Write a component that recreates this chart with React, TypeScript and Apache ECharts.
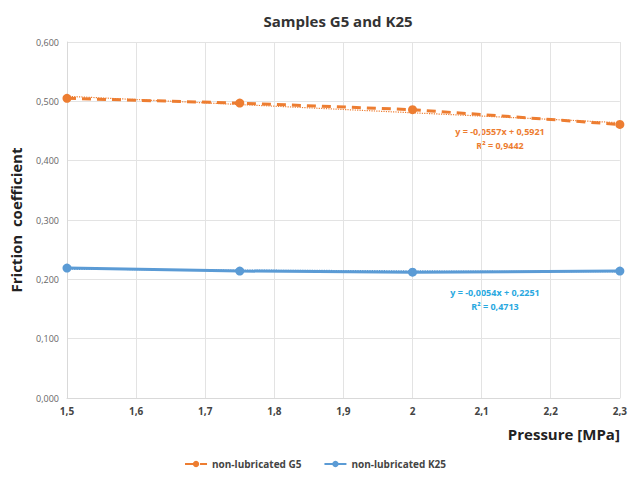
import React, { useEffect, useRef } from "react";
import * as echarts from "echarts";

const pressure = [1.5, 1.75, 2, 2.3];
const g5Values = [0.505, 0.497, 0.486, 0.461];
const k25Values = [0.219, 0.214, 0.212, 0.214];
const g5Trend = { slope: -0.0557, intercept: 0.5921 };
const k25Trend = { slope: -0.0054, intercept: 0.2251 };
const g5Label = ["y = -0,0557x + 0,5921", "R² = 0,9442"];
const k25Label = ["y = -0,0054x + 0,2251", "R² = 0,4713"];

const ORANGE = "#ED7D31";
const BLUE = "#5B9BD5";
const FONT = "'Open Sans', 'Liberation Sans', sans-serif";

function trend(t: { slope: number; intercept: number }) {
  const xs = [pressure[0], pressure[pressure.length - 1]];
  return xs.map((x) => [x, t.slope * x + t.intercept]);
}

export default function App() {
  const ref = useRef<HTMLDivElement>(null);
  useEffect(() => {
    if (!ref.current) return;
    document.body.style.margin = "0";
    const chart = echarts.init(ref.current, undefined, { renderer: "svg" });
    chart.setOption({
      animation: false,
      backgroundColor: "#fff",
      title: {
        text: "Samples G5 and K25",
        left: 333,
        textAlign: "center",
        top: 8,
        textStyle: { fontFamily: FONT, fontSize: 15, fontWeight: "bold", color: "#333" },
      },
      grid: { left: 63, right: 8, top: 42, bottom: 86, containLabel: false },
      xAxis: {
        type: "value",
        min: 1.5,
        max: 2.3,
        interval: 0.1,
        name: "Pressure [MPa]",
        nameLocation: "end",
        nameGap: 0,
        nameTextStyle: {
          fontFamily: FONT,
          fontSize: 15,
          fontWeight: "bold",
          color: "#222",
          align: "right",
          verticalAlign: "top",
          padding: [28, 0, 0, 0],
        },
        axisLine: { show: true, lineStyle: { color: "#d9d9d9" } },
        axisTick: { show: false },
        splitLine: { show: true, lineStyle: { color: "#e3e3e3" } },
        axisLabel: {
          fontFamily: FONT,
          fontSize: 10,
          fontWeight: "bold",
          color: "#444",
          margin: 8,
          formatter: (v: number) => String(Math.round(v * 10) / 10).replace(".", ","),
        },
      },
      yAxis: {
        type: "value",
        min: 0,
        max: 0.6,
        interval: 0.1,
        name: "Friction  coefficient",
        nameLocation: "middle",
        nameGap: 44,
        nameRotate: 90,
        nameTextStyle: { fontFamily: FONT, fontSize: 15, fontWeight: "bold", color: "#222" },
        axisLine: { show: true, lineStyle: { color: "#d9d9d9" } },
        axisTick: { show: false },
        splitLine: { show: true, lineStyle: { color: "#e3e3e3" } },
        axisLabel: {
          fontFamily: FONT,
          fontSize: 9,
          color: "#666",
          margin: 8,
          formatter: (v: number) => v.toFixed(3).replace(".", ","),
        },
      },
      legend: {
        data: ["non-lubricated G5", "non-lubricated K25"],
        bottom: 10,
        left: "center",
        itemWidth: 22,
        itemHeight: 8,
        itemGap: 22,
        textStyle: { fontFamily: FONT, fontSize: 10, fontWeight: "bold", color: "#444" },
      },
      series: [
        {
          name: "G5 trend",
          type: "line",
          data: trend(g5Trend),
          symbol: "none",
          lineStyle: { color: ORANGE, width: 1.2, type: "dotted" },
          z: 1,
        },
        {
          name: "K25 trend",
          type: "line",
          data: trend(k25Trend),
          symbol: "none",
          lineStyle: { color: BLUE, width: 1.2, type: "dotted" },
          z: 1,
        },
        {
          name: "non-lubricated G5",
          type: "line",
          data: pressure.map((p, i) => [p, g5Values[i]]),
          symbol: "circle",
          symbolSize: 9,
          itemStyle: { color: ORANGE },
          lineStyle: { color: ORANGE, width: 3, type: [9, 6] },
          z: 3,
        },
        {
          name: "non-lubricated K25",
          type: "line",
          data: pressure.map((p, i) => [p, k25Values[i]]),
          symbol: "circle",
          symbolSize: 9,
          itemStyle: { color: BLUE },
          lineStyle: { color: BLUE, width: 3 },
          z: 3,
        },
      ],
      graphic: [
        {
          type: "text",
          x: 500,
          y: 124,
          style: {
            text: g5Label.join("\n"),
            align: "center",
            fill: ORANGE,
            font: `bold 9px ${FONT}`,
            lineHeight: 14,
          },
        },
        {
          type: "text",
          x: 495,
          y: 285,
          style: {
            text: k25Label.join("\n"),
            align: "center",
            fill: "#29A8E0",
            font: `bold 9px ${FONT}`,
            lineHeight: 14,
          },
        },
      ],
    });
    return () => chart.dispose();
  }, []);
  return <div ref={ref} style={{ width: 630, height: 484 }} />;
}
